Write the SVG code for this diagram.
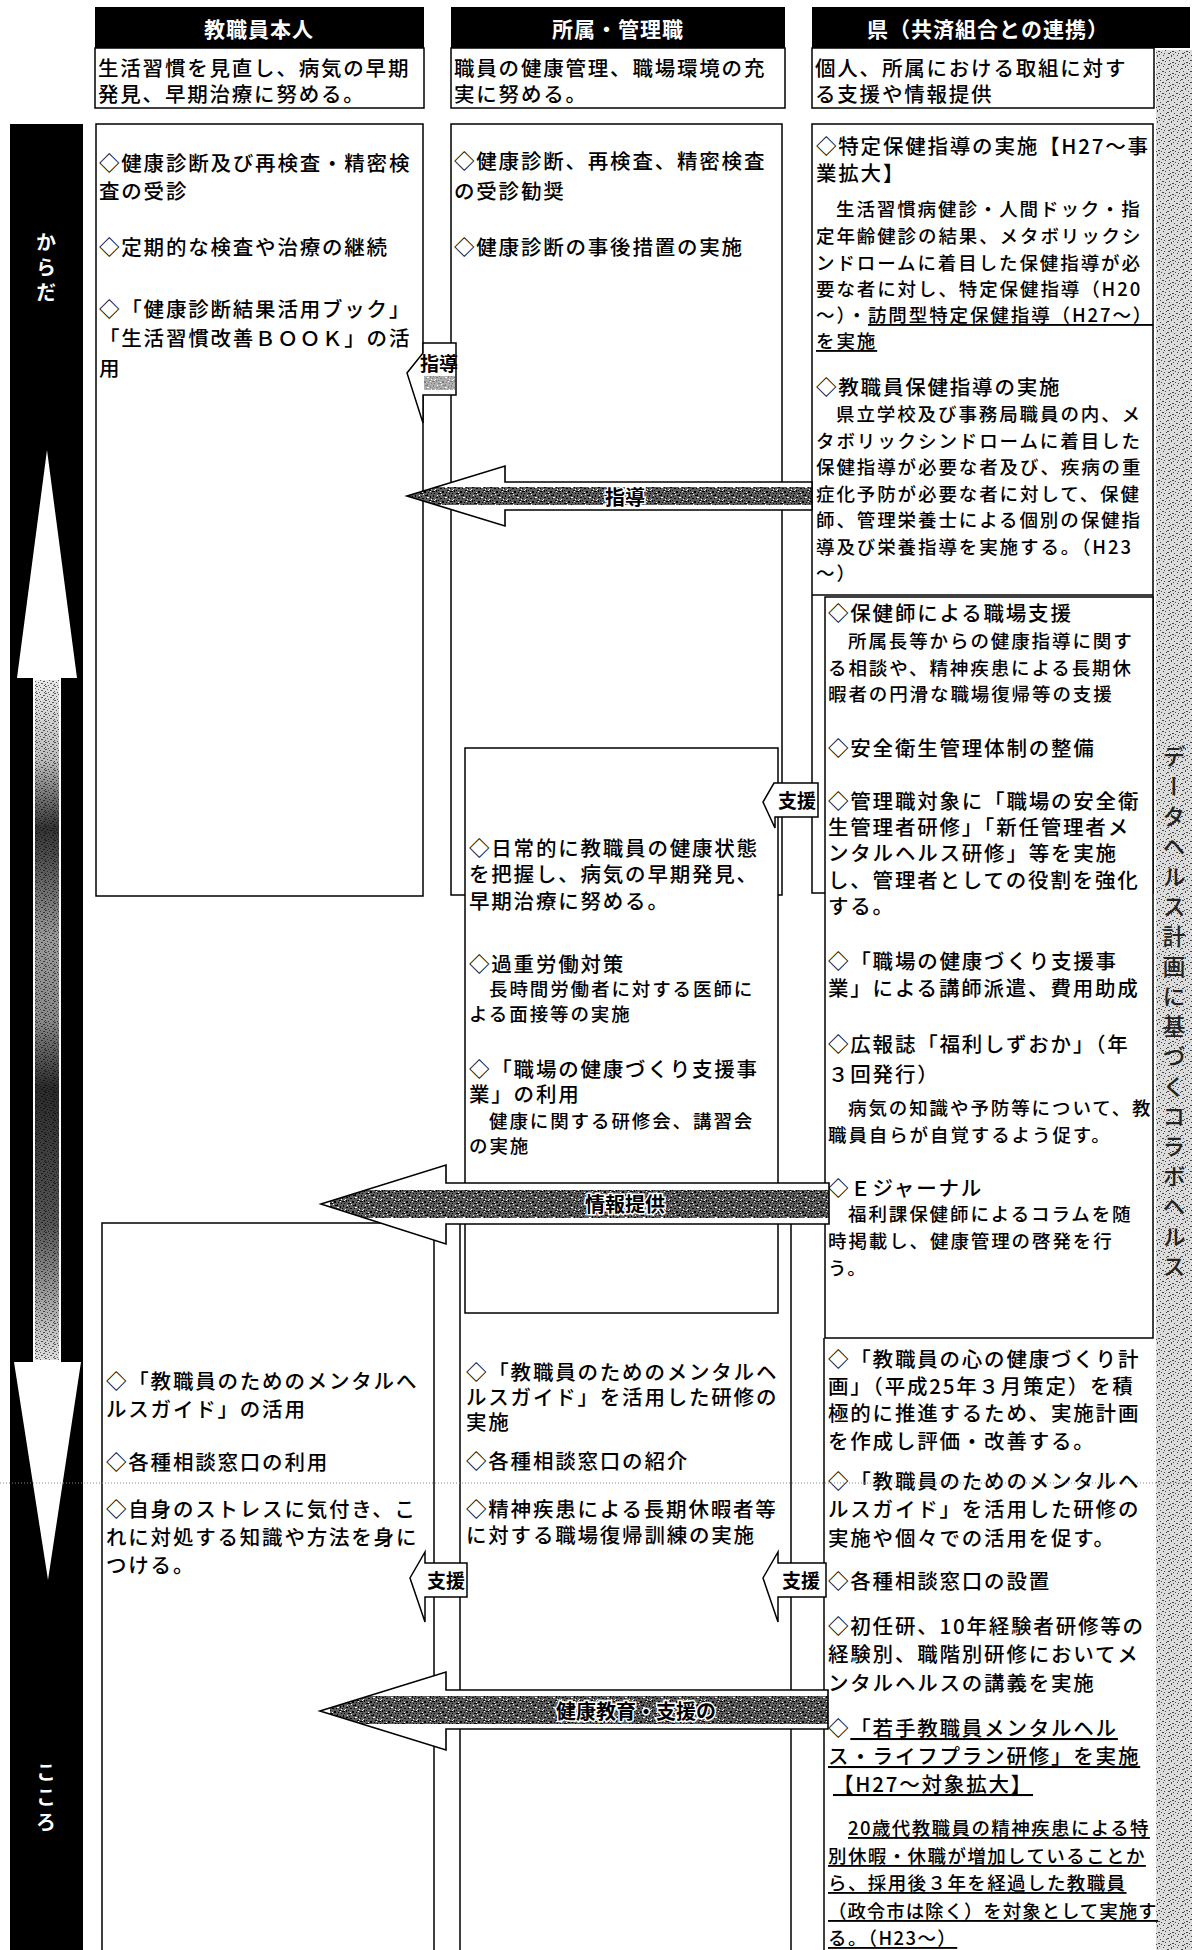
<svg xmlns="http://www.w3.org/2000/svg" width="1192" height="1950" viewBox="0 0 1192 1950">
<defs>
<style>
text{font-family:"Noto Sans CJK JP","Noto Sans CJK SC",sans-serif}
.t{font-size:20.5px;font-weight:500;letter-spacing:1.8px;fill:#000;dominant-baseline:central}
.d{font-size:18.5px;letter-spacing:1.9px}
.d2{font-size:18.5px;letter-spacing:1.4px}
.u{text-decoration:underline}
.box{fill:#fff;stroke:#000;stroke-width:1.5}
.ln{fill:none;stroke:#000;stroke-width:1.5}
.hb{fill:#000}
.ht{font-size:21px;font-weight:700;fill:#fff;text-anchor:middle;dominant-baseline:central;letter-spacing:1px}
.vt{font-size:20px;font-weight:700;fill:#fff;writing-mode:vertical-rl;letter-spacing:5px}
.vs{font-size:23px;font-weight:500;fill:#222;writing-mode:vertical-rl;letter-spacing:7px}
.aw{fill:#fff;stroke:none}
.ao{fill:none;stroke:#000;stroke-width:1.6}
.at{font-size:20px;font-weight:700;fill:#000;text-anchor:middle;dominant-baseline:central;stroke:#fff;stroke-width:3px;paint-order:stroke}
.sa{fill:#fff;stroke:#000;stroke-width:1.5}
.st{font-size:19px;font-weight:700;fill:#000;text-anchor:middle;dominant-baseline:central}
</style>
<pattern id="pN" width="18" height="10" patternUnits="userSpaceOnUse">
<rect width="18" height="10" fill="#5e5e5e"/>
<path fill="#000" d="M0 1h3v1H0zM4 0h1v2H4zM6 3h3v1H6zM10 1h2v2h-2zM13 4h1v1h-1zM15 0h2v1h-2zM1 5h1v2H1zM4 7h2v1H4zM7 6h1v1H7zM11 5h3v1h-3zM16 6h1v2h-1zM2 3h1v1H2zM8 8h2v1H8zM14 2h1v1h-1zM12 8h1v1h-1zM6 0h1v1H6zM17 3h1v1h-1zM0 8h1v1H0z"/>
<path fill="#fff" d="M2 0h1v1H2zM8 2h1v1H8zM5 5h1v1H5zM13 7h2v1h-2zM16 1h1v1h-1zM3 9h1v1H3zM9 4h1v1H9zM17 9h1v1h-1z"/>
</pattern>
<pattern id="pS" width="14" height="11" patternUnits="userSpaceOnUse">
<rect width="14" height="11" fill="#dcdcdc"/>
<path fill="#444" d="M1 0h1v1H1zM5 2h2v1H5zM9 0h1v2H9zM12 3h1v1h-1zM0 5h2v1H0zM3 6h1v1H3zM7 5h1v1H7zM10 7h2v1h-2zM13 8h1v1h-1zM2 9h1v1H2zM6 9h2v1H6zM11 10h1v1h-1zM4 3h1v1H4zM8 8h1v1H8z"/>
</pattern>
<pattern id="pL" width="9" height="7" patternUnits="userSpaceOnUse">
<path fill="#000" d="M0 0h2v1H0zM4 1h1v1H4zM7 2h2v1H7zM2 3h1v1H2zM5 4h2v1H5zM0 5h1v1H0zM8 6h1v1H8zM3 6h1v1H3z"/>
</pattern>
<linearGradient id="gS" gradientUnits="userSpaceOnUse" x1="0" y1="678" x2="0" y2="1362">
<stop offset="0" stop-color="#e8e8e8"/><stop offset="0.12" stop-color="#bbb"/><stop offset="0.22" stop-color="#333"/><stop offset="0.38" stop-color="#999"/><stop offset="0.5" stop-color="#888"/><stop offset="0.6" stop-color="#2a2a2a"/><stop offset="0.8" stop-color="#555"/><stop offset="1" stop-color="#e0e0e0"/>
</linearGradient>
<clipPath id="c1"><polygon points="812,482 505,482 505,466 407,496 505,526 505,510 812,510"/></clipPath>
<clipPath id="c2"><polygon points="829,1183 446,1183 446,1165 321,1204 446,1244 446,1224 829,1224"/></clipPath>
<clipPath id="c3"><polygon points="828,1690 446,1690 446,1672 320,1711 446,1750 446,1729 828,1729"/></clipPath>
</defs>
<rect width="1192" height="1950" fill="#fff"/>

<g id="right-strip">
<rect x="1156" y="50" width="36" height="1900" fill="url(#pS)"/>
<text class="vs" x="1174" y="745">データヘルス計画に基づくコラボヘルス</text>
</g>

<g id="left-bar">
<rect x="10" y="124" width="73" height="1826" fill="#000"/>
<polygon points="47,450 77,678 61,678 61,1362 81,1362 48,1580 14,1362 33,1362 33,678 17,678" fill="#fff"/>
<rect x="35" y="680" width="24" height="680" fill="url(#gS)"/>
<rect x="35" y="680" width="24" height="680" fill="url(#pL)" opacity="0.6"/>
<text class="vt" x="46" y="232">からだ</text>
<text class="vt" x="46" y="1762">こころ</text>
</g>

<g id="header-1">
<rect class="hb" x="95" y="7" width="329" height="41"/>
<text class="ht" x="259" y="28">教職員本人</text>
<rect class="box" x="95" y="48" width="329" height="60"/>
<text class="t" x="98" y="67">生活習慣を見直し、病気の早期</text>
<text class="t" x="98" y="93">発見、早期治療に努める。</text>
</g>
<g id="header-2">
<rect class="hb" x="451" y="7" width="334" height="41"/>
<text class="ht" x="618" y="28">所属・管理職</text>
<rect class="box" x="451" y="48" width="334" height="60"/>
<text class="t" x="454" y="67">職員の健康管理、職場環境の充</text>
<text class="t" x="454" y="93">実に努める。</text>
</g>
<g id="header-3">
<rect class="hb" x="812" y="7" width="378" height="41"/>
<text class="ht" x="988" y="28">県（共済組合との連携）</text>
<rect class="box" x="812" y="48" width="342" height="60"/>
<text class="t" x="815" y="67">個人、所属における取組に対す</text>
<text class="t" x="815" y="93">る支援や情報提供</text>
</g>

<g id="col1-top">
<rect class="box" x="96" y="124" width="327" height="772"/>
<text class="t" x="99" y="162">◇健康診断及び再検査・精密検</text>
<text class="t" x="99" y="190">査の受診</text>
<text class="t" x="99" y="246">◇定期的な検査や治療の継続</text>
<text class="t" x="99" y="308">◇「健康診断結果活用ブック」</text>
<text class="t" x="99" y="337">「生活習慣改善ＢＯＯＫ」の活</text>
<text class="t" x="99" y="367">用</text>
</g>

<g id="col2-top">
<rect class="box" x="451" y="124" width="331" height="771"/>
<text class="t" x="454" y="160">◇健康診断、再検査、精密検査</text>
<text class="t" x="454" y="190">の受診勧奨</text>
<text class="t" x="454" y="246">◇健康診断の事後措置の実施</text>
</g>

<g id="col3-top">
<rect class="box" x="812" y="124" width="341" height="769"/>
<line class="ln" x1="812" y1="595" x2="1153" y2="595"/>
<text class="t" x="816" y="145">◇特定保健指導の実施【H27～事</text>
<text class="t" x="816" y="172">業拡大】</text>
<text class="t d" x="836" y="208">生活習慣病健診・人間ドック・指</text>
<text class="t d" x="816" y="235">定年齢健診の結果、メタボリックシ</text>
<text class="t d" x="816" y="262">ンドロームに着目した保健指導が必</text>
<text class="t d" x="816" y="288">要な者に対し、特定保健指導（H20</text>
<text class="t d" x="816" y="314">～）・<tspan class="u">訪問型特定保健指導（H27～）</tspan></text>
<text class="t d u" x="816" y="340">を実施</text>
<text class="t" x="816" y="386">◇教職員保健指導の実施</text>
<text class="t d" x="836" y="413">県立学校及び事務局職員の内、メ</text>
<text class="t d" x="816" y="440">タボリックシンドロームに着目した</text>
<text class="t d" x="816" y="466">保健指導が必要な者及び、疾病の重</text>
<text class="t d" x="816" y="493">症化予防が必要な者に対して、保健</text>
<text class="t d" x="816" y="519">師、管理栄養士による個別の保健指</text>
<text class="t d" x="816" y="546">導及び栄養指導を実施する。（H23</text>
<text class="t d" x="816" y="572">～）</text>
</g>

<g id="col2-inner">
<rect class="box" x="465" y="748" width="313" height="565"/>
<text class="t" x="469" y="847">◇日常的に教職員の健康状態</text>
<text class="t" x="469" y="873">を把握し、病気の早期発見、</text>
<text class="t" x="469" y="900">早期治療に努める。</text>
<text class="t" x="469" y="963">◇過重労働対策</text>
<text class="t d" x="489" y="988">長時間労働者に対する医師に</text>
<text class="t d" x="469" y="1013">よる面接等の実施</text>
<text class="t" x="469" y="1068">◇「職場の健康づくり支援事</text>
<text class="t" x="469" y="1093">業」の利用</text>
<text class="t d" x="489" y="1120">健康に関する研修会、講習会</text>
<text class="t d" x="469" y="1145">の実施</text>
</g>

<g id="col3-support">
<rect class="box" x="825" y="597" width="328" height="741"/>
<text class="t" x="828" y="612">◇保健師による職場支援</text>
<text class="t d" x="848" y="640">所属長等からの健康指導に関す</text>
<text class="t d" x="828" y="667">る相談や、精神疾患による長期休</text>
<text class="t d" x="828" y="693">暇者の円滑な職場復帰等の支援</text>
<text class="t" x="828" y="747">◇安全衛生管理体制の整備</text>
<text class="t" x="828" y="800">◇管理職対象に「職場の安全衛</text>
<text class="t" x="828" y="826">生管理者研修」「新任管理者メ</text>
<text class="t" x="828" y="852">ンタルヘルス研修」等を実施</text>
<text class="t" x="828" y="879">し、管理者としての役割を強化</text>
<text class="t" x="828" y="905">する。</text>
<text class="t" x="828" y="960">◇「職場の健康づくり支援事</text>
<text class="t" x="828" y="987">業」による講師派遣、費用助成</text>
<text class="t" x="828" y="1043">◇広報誌「福利しずおか」（年</text>
<text class="t" x="828" y="1073">３回発行）</text>
<text class="t d" x="848" y="1107">病気の知識や予防等について、教</text>
<text class="t d" x="828" y="1134">職員自らが自覚するよう促す。</text>
<text class="t" x="828" y="1187">◇Ｅジャーナル</text>
<text class="t d" x="848" y="1213">福利課保健師によるコラムを随</text>
<text class="t d" x="828" y="1240">時掲載し、健康管理の啓発を行</text>
<text class="t d" x="828" y="1267">う。</text>
</g>

<g id="col1-bottom">
<rect class="box" x="102" y="1223" width="332" height="740"/>
<text class="t" x="106" y="1380">◇「教職員のためのメンタルへ</text>
<text class="t" x="106" y="1408">ルスガイド」の活用</text>
<text class="t" x="106" y="1461">◇各種相談窓口の利用</text>
<text class="t" x="106" y="1508">◇自身のストレスに気付き、こ</text>
<text class="t" x="106" y="1536">れに対処する知識や方法を身に</text>
<text class="t" x="106" y="1564">つける。</text>
</g>

<g id="col2-bottom">
<polyline class="ln" points="460,1224 460,1960"/>
<polyline class="ln" points="791,1224 791,1960"/>
<text class="t" x="466" y="1371">◇「教職員のためのメンタルヘ</text>
<text class="t" x="466" y="1396">ルスガイド」を活用した研修の</text>
<text class="t" x="466" y="1421">実施</text>
<text class="t" x="466" y="1460">◇各種相談窓口の紹介</text>
<text class="t" x="466" y="1508">◇精神疾患による長期休暇者等</text>
<text class="t" x="466" y="1534">に対する職場復帰訓練の実施</text>
</g>

<g id="col3-bottom">
<line class="ln" x1="824" y1="1338" x2="824" y2="1950"/>
<text class="t" x="828" y="1358">◇「教職員の心の健康づくり計</text>
<text class="t" x="828" y="1385">画」（平成25年３月策定）を積</text>
<text class="t" x="828" y="1412">極的に推進するため、実施計画</text>
<text class="t" x="828" y="1440">を作成し評価・改善する。</text>
<text class="t" x="828" y="1480">◇「教職員のためのメンタルヘ</text>
<text class="t" x="828" y="1508">ルスガイド」を活用した研修の</text>
<text class="t" x="828" y="1537">実施や個々での活用を促す。</text>
<text class="t" x="828" y="1580">◇各種相談窓口の設置</text>
<text class="t" x="828" y="1625">◇初任研、10年経験者研修等の</text>
<text class="t" x="828" y="1653">経験別、職階別研修においてメ</text>
<text class="t" x="828" y="1682">ンタルヘルスの講義を実施</text>
<text class="t" x="828" y="1727">◇<tspan class="u">「若手教職員メンタルヘル</tspan></text>
<text class="t u" x="828" y="1755">ス・ライフプラン研修」を実施</text>
<text class="t u" x="833" y="1783">【H27～対象拡大】</text>
<text class="t d2 u" x="848" y="1827">20歳代教職員の精神疾患による特</text>
<text class="t d2 u" x="828" y="1855">別休暇・休職が増加していることか</text>
<text class="t d2 u" x="828" y="1882">ら、採用後３年を経過した教職員</text>
<text class="t d2 u" x="828" y="1910" textLength="330" lengthAdjust="spacing">（政令市は除く）を対象として実施す</text>
<text class="t d2 u" x="828" y="1937">る。（H23～）</text>
</g>

<line x1="0" y1="1483" x2="1192" y2="1483" stroke="#888" stroke-width="1" stroke-dasharray="1 2"/>

<g id="connectors">
<g id="arrow-shidou-small">
<polygon class="sa" points="456,343 423,343 423,353 407,373 423,423 423,395 456,395"/>
<rect x="424" y="376" width="31" height="14" fill="url(#pN)" opacity="0.5"/>
<text class="st" x="439" y="362">指導</text>
</g>
<g id="arrow-shidou">
<polygon class="aw" points="812,482 505,482 505,466 407,496 505,526 505,510 812,510"/>
<rect x="410" y="487" width="402" height="18" fill="url(#pN)" clip-path="url(#c1)"/>
<polygon class="ao" points="812,482 505,482 505,466 407,496 505,526 505,510 812,510"/>
<text class="at" x="625" y="496">指導</text>
</g>
<g id="arrow-shien-upper">
<polygon class="sa" points="818,783 774,783 763,802 775,828 775,817 818,817"/>
<text class="st" x="797" y="799">支援</text>
</g>
<g id="arrow-jouhou">
<polygon class="aw" points="829,1183 446,1183 446,1165 321,1204 446,1244 446,1224 829,1224"/>
<rect x="330" y="1190" width="499" height="28" fill="url(#pN)" clip-path="url(#c2)"/>
<polygon class="ao" points="829,1183 446,1183 446,1165 321,1204 446,1244 446,1224 829,1224"/>
<text class="at" x="625" y="1203">情報提供</text>
</g>
<g id="arrow-shien-left">
<polygon class="sa" points="467,1563 425,1563 425,1552 410,1578 425,1622 425,1597 467,1597"/>
<text class="st" x="446" y="1579">支援</text>
</g>
<g id="arrow-shien-right">
<polygon class="sa" points="826,1563 778,1563 778,1552 763,1578 778,1622 778,1597 826,1597"/>
<text class="st" x="801" y="1579">支援</text>
</g>
<g id="arrow-kenkou">
<polygon class="aw" points="828,1690 446,1690 446,1672 320,1711 446,1750 446,1729 828,1729"/>
<rect x="330" y="1696" width="498" height="28" fill="url(#pN)" clip-path="url(#c3)"/>
<polygon class="ao" points="828,1690 446,1690 446,1672 320,1711 446,1750 446,1729 828,1729"/>
<text class="at" x="636" y="1710">健康教育・支援の</text>
</g>
</g>
</svg>
